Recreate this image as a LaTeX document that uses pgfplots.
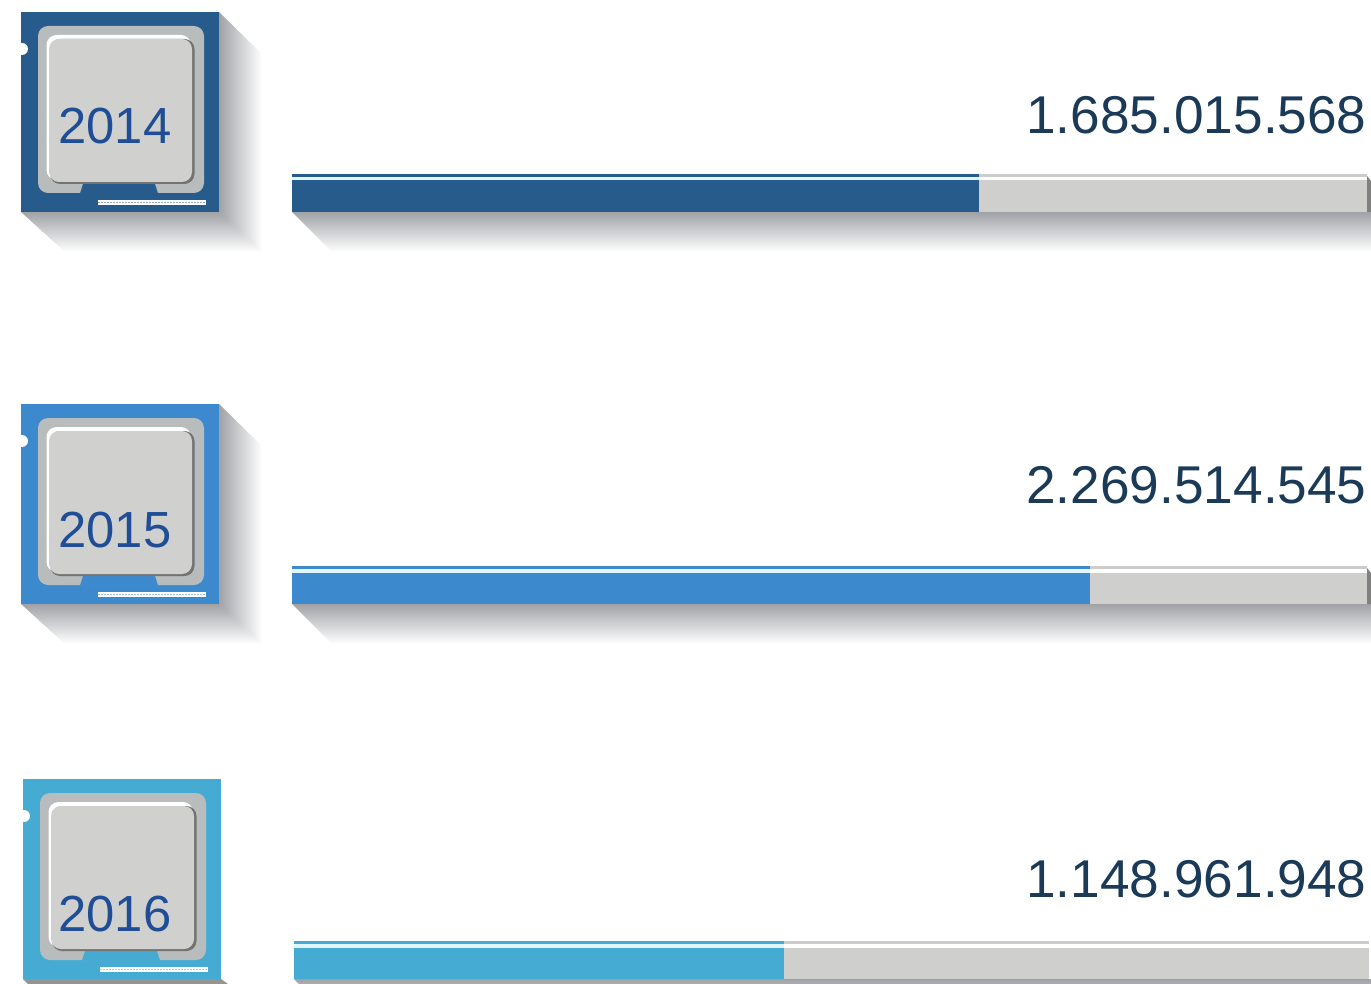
\documentclass[border=0pt]{standalone}
\usepackage{pgfplots}
\pgfplotsset{compat=1.18}
\usepackage{fontspec}
\setmainfont{Liberation Sans}
\definecolor{cA}{HTML}{265B8B}
\definecolor{cB}{HTML}{3D89CD}
\definecolor{cC}{HTML}{45ABD3}
\definecolor{track}{HTML}{CFD0CE}
\definecolor{plate}{HTML}{B9BCBC}
\definecolor{die}{HTML}{D0D1CF}
\definecolor{yeartxt}{HTML}{1F4E96}
\definecolor{valtxt}{HTML}{1B3A57}
\definecolor{shad}{HTML}{A0A2A6}
\newcommand{\iconshadow}[1]{%
 \begin{scope}[shift={#1}]
  \begin{scope}
   \clip (198,0) -- (241,42) -- (241,240) -- (198,200) -- cycle;
   \shade[left color=shad, middle color=black!8, right color=white] (198,0) rectangle (241,240);
  \end{scope}
  \begin{scope}
   \clip (0,200) -- (44,240) -- (241,240) -- (198,200) -- cycle;
   \shade[top color=shad, middle color=black!8, bottom color=white] (0,200) rectangle (241,240);
  \end{scope}
 \end{scope}}
\newcommand{\icon}[2]{%
 \begin{scope}[shift={#1}]
  \fill[#2] (0,0) rectangle (198,200);
  \fill[white] (1,37) circle (6);
  \fill[plate,rounded corners=5pt] (17,14) rectangle (183,181);
  \fill[#2] (59,181.5) -- (62,172) -- (134,172) -- (137,181.5) -- cycle;
  \fill[white,rounded corners=5pt] (25.5,23) rectangle (170,168);
  \fill[black!55,rounded corners=5pt] (29,27) rectangle (173.5,172);
  \fill[die,rounded corners=5pt] (28,27) rectangle (171,170);
  \fill[white,dash pattern=on 1.5pt off .35pt] (77,188) rectangle (185,193);
  \draw[#2!50!white,line width=.5pt,dash pattern=on .9pt off .6pt] (77,190.5) -- (185,190.5);
 \end{scope}}
\newcommand{\barshadow}[1]{%
 \begin{scope}[shift={#1}]
  \clip (0,0) -- (40,40) -- (1085,40) -- (1085,0) -- cycle;
  \shade[top color=shad, middle color=black!8, bottom color=white] (0,0) rectangle (1085,40);
 \end{scope}}
\begin{document}
\begin{tikzpicture}[x=.5pt,y=-.5pt]
\useasboundingbox (0,0) rectangle (1371,984);
\clip (0,0) rectangle (1371,984);
% decorations behind the axis
\iconshadow{(21,12)}\iconshadow{(21,404)}
\fill[black!42] (23,979) -- (28,984) -- (228,984) -- (221,979) -- cycle;
\barshadow{(292,212)}\barshadow{(292,604)}\barshadow{(294,979)}
\icon{(21,12)}{cA}\icon{(21,404)}{cB}\icon{(23,779)}{cC}
\begin{axis}[at={(0,0)},anchor=north west,scale only axis,width=685.5pt,height=492pt,
  xmin=0,xmax=1371,ymin=0,ymax=984,y dir=reverse,hide axis,clip=false]
% full tracks
\addplot[fill=track,draw=none] coordinates {(292,176)(1367,176)(1367,212)(292,212)} -- cycle;
\addplot[fill=track,draw=none] coordinates {(292,568)(1367,568)(1367,604)(292,604)} -- cycle;
\addplot[fill=track,draw=none] coordinates {(294,943)(1369,943)(1369,979)(294,979)} -- cycle;
% value bars
\addplot[fill=cA,draw=none] coordinates {(292,174)(979,174)(979,212)(292,212)} -- cycle;
\addplot[fill=cB,draw=none] coordinates {(292,566)(1090,566)(1090,604)(292,604)} -- cycle;
\addplot[fill=cC,draw=none] coordinates {(294,941)(784,941)(784,979)(294,979)} -- cycle;
\end{axis}
% highlights on top of the bars
\fill[white!88!cyan] (292,177) rectangle (979,180.5);
\fill[white] (979,177) rectangle (1367,180.5);
\fill[black!20] (979,174) rectangle (1367,177);
\fill[white!88!cyan] (292,569) rectangle (1090,572.5);
\fill[white] (1090,569) rectangle (1367,572.5);
\fill[black!20] (1090,566) rectangle (1367,569);
\fill[white!88!cyan] (294,944) rectangle (784,947.5);
\fill[white] (784,944) rectangle (1369,947.5);
\fill[black!20] (784,941) rectangle (1369,944);
\fill[black!50] (1367,176) -- (1371,181) -- (1371,212) -- (1367,212) -- cycle;
\fill[black!50] (1367,568) -- (1371,573) -- (1371,604) -- (1367,604) -- cycle;
% text
\newcommand{\yr}[2]{\node[anchor=base,inner sep=0pt,text=yeartxt,font=\fontsize{25.4pt}{30pt}\selectfont] at #1 {#2};}
\newcommand{\val}[2]{\node[anchor=base east,inner sep=0pt,text=valtxt,font=\fontsize{26.6pt}{32pt}\selectfont] at #1 {#2};}
\yr{(115,143.5)}{2014}
\yr{(115,547.5)}{2015}
\yr{(115,931.5)}{2016}
\val{(1367,134)}{1.685.015.568}
\val{(1367,503)}{2.269.514.545}
\val{(1367,897)}{1.148.961.948}
\end{tikzpicture}
\end{document}
